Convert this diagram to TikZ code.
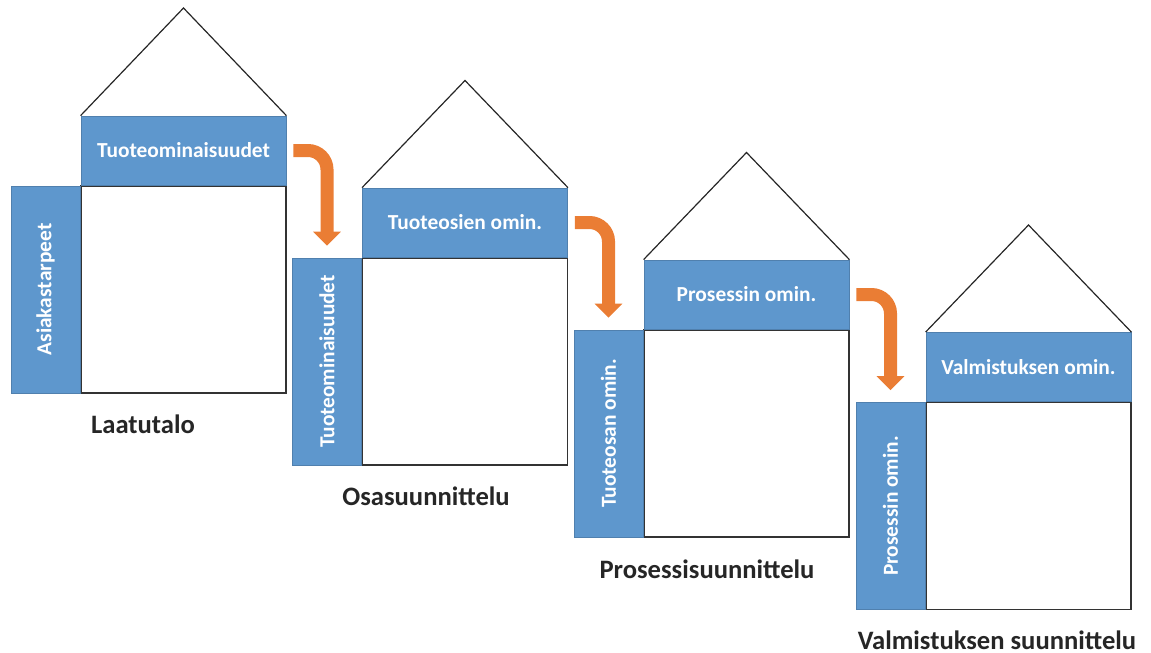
\documentclass[tikz,border=0pt]{standalone}
\usepackage{fontspec}
\setmainfont{Carlito}
\usepackage{tikz}
\usetikzlibrary{arrows.meta}
\definecolor{qblue}{RGB}{94,151,205}
\definecolor{qorange}{RGB}{234,125,52}

\begin{document}
\begin{tikzpicture}[x=0.5pt,y=-0.5pt,
  matrixbox/.style={draw=black!80,fill=white,line width=0.6pt,minimum width=102.5pt,minimum height=103.5pt,inner sep=0},
  bar/.style={fill=qblue,draw=qblue!85!black,line width=0.4pt,text=white,inner sep=0,font=\bfseries\fontsize{10.7}{12}\selectfont},
  topbar/.style={bar,minimum width=102.5pt,minimum height=34.5pt},
  sidebar/.style={bar,rotate=90,minimum width=103.5pt,minimum height=34.5pt},
  roof/.style={draw=black!85,line width=0.6pt},
  flow/.style={draw=qorange,line width=6.5pt,rounded corners=9.5pt,-{Triangle[width=13.5pt,length=7pt]}},
  caption/.style={text=black!85,font=\bfseries\fontsize{13.3}{15}\selectfont}]
\useasboundingbox (0,0) rectangle (1151,653);

% Laatutalo
\node[matrixbox] (b1) at (183.5,289.5) {};
\node[topbar,anchor=south] (t1) at (b1.north) {Tuoteominaisuudet};
\node[sidebar,anchor=south] (s1) at (b1.west) {Asiakastarpeet};
\coordinate (r1) at (183.5,8);
\draw[roof] (t1.north west) -- (r1) -- (t1.north east);
\node[caption] (c1) at (143,424) {Laatutalo};

% Osasuunnittelu
\node[matrixbox] (b2) at (465,361.5) {};
\node[topbar,anchor=south] (t2) at (b2.north) {Tuoteosien omin.};
\node[sidebar,anchor=south] (s2) at (b2.west) {Tuoteominaisuudet};
\coordinate (r2) at (465,80.5);
\draw[roof] (t2.north west) -- (r2) -- (t2.north east);
\node[caption] (c2) at (426,496) {Osasuunnittelu};

% Prosessisuunnittelu
\node[matrixbox] (b3) at (746.5,433.5) {};
\node[topbar,anchor=south] (t3) at (b3.north) {Prosessin omin.};
\node[sidebar,anchor=south] (s3) at (b3.west) {Tuoteosan omin.};
\coordinate (r3) at (746.5,152.5);
\draw[roof] (t3.north west) -- (r3) -- (t3.north east);
\node[caption] (c3) at (707,569) {Prosessisuunnittelu};

% Valmistuksen suunnittelu
\node[matrixbox] (b4) at (1028.5,506) {};
\node[topbar,anchor=south] (t4) at (b4.north) {Valmistuksen omin.};
\node[sidebar,anchor=south] (s4) at (b4.west) {Prosessin omin.};
\coordinate (r4) at (1028.5,225);
\draw[roof] (t4.north west) -- (r4) -- (t4.north east);
\node[caption] (c4) at (997,640) {Valmistuksen suunnittelu};

% siirtymat
\draw[flow,shorten <=3.5pt,shorten >=6pt] (t1.east) -| (s2.east);
\draw[flow,shorten <=3.5pt,shorten >=6pt] (t2.east) -| (s3.east);
\draw[flow,shorten <=3.5pt,shorten >=6pt] (t3.east) -| (s4.east);
\end{tikzpicture}
\end{document}
